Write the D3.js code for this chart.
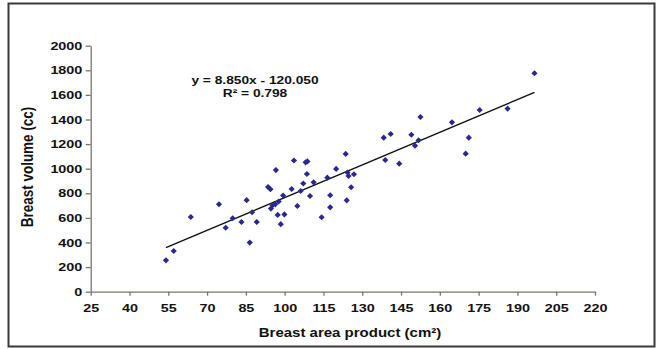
<!DOCTYPE html>
<html>
<head>
<meta charset="utf-8">
<script src="https://cdn.jsdelivr.net/npm/d3@7"></script>
<style>
  body { margin: 0; background: #fff; }
  text { font-family: "Liberation Sans", Arial, sans-serif; font-weight: bold; fill: #111; }
</style>
</head>
<body>
<div id="scatter"></div>
<script>
// data
var areaProduct = [54.1, 57.1, 63.7, 74.6, 77.2, 79.9, 83.3, 85.3, 86.5, 87.4, 89.2, 93.6, 94.5, 94.7, 95.3,
  96.4, 97.7, 96.6, 97.3, 98.5, 99.4, 99.9, 102.7, 103.6, 104.9, 106.2, 107.2, 108.1, 108.8, 108.6,
  109.8, 111.2, 114.3, 116.5, 117.6, 117.6, 119.9, 123.6, 124.0, 124.3, 124.7, 126.8, 125.7, 138.3,
  138.9, 141.0, 144.3, 149.0, 150.4, 151.8, 152.5, 164.7, 170.0, 171.2, 175.4, 186.2, 196.6];
var breastVolume = [255, 331, 607, 711, 520, 597, 567, 744, 399, 646, 567, 851, 833, 676, 701,
  711, 733, 989, 624, 549, 782, 628, 835, 1067, 697, 819, 880, 1052, 1059, 957,
  778, 889, 605, 927, 784, 686, 998, 1120, 743, 969, 941, 955, 849, 1252,
  1071, 1282, 1041, 1276, 1187, 1231, 1420, 1377, 1122, 1252, 1477, 1488, 1776];
var xTicks = [25, 40, 55, 70, 85, 100, 115, 130, 145, 160, 175, 190, 205, 220];
var yTicks = [0, 200, 400, 600, 800, 1000, 1200, 1400, 1600, 1800, 2000];
var trendSlope = 8.85;
var trendIntercept = -120.05;
var equationLabel = "y = 8.850x - 120.050";
var r2Label = "R\u00B2 = 0.798";

var svgWidth = 662;
var svgHeight = 349;
var sx = 1.25; // text in the source is stretched sideways

var margin = { top: 45.7, right: 67, bottom: 57.3, left: 90.7 };
var width = svgWidth - margin.left - margin.right;
var height = svgHeight - margin.top - margin.bottom;

var svg = d3.select("#scatter")
  .append("svg")
  .attr("width", svgWidth)
  .attr("height", svgHeight);

// outer frame
svg.append("rect")
  .attr("x", 8.5).attr("y", 3.5)
  .attr("width", 646).attr("height", 343)
  .attr("fill", "none")
  .attr("stroke", "#3a3a3a")
  .attr("stroke-width", 2);

var chartGroup = svg.append("g")
  .attr("transform", `translate(${margin.left}, ${margin.top})`);

// scales
var xLinearScale = d3.scaleLinear().domain([25, 220]).range([0, width]);
var yLinearScale = d3.scaleLinear().domain([0, 2000]).range([height, 0]);

// axes
var bottomAxis = d3.axisBottom(xLinearScale).tickValues(xTicks).tickSize(4).tickPadding(8).tickSizeOuter(0);
var leftAxis = d3.axisLeft(yLinearScale).tickValues(yTicks).tickFormat(d3.format("d"))
  .tickSize(5).tickPadding(3.4).tickSizeOuter(0);

var xAxisG = chartGroup.append("g")
  .attr("transform", `translate(0, ${height})`)
  .call(bottomAxis);
var yAxisG = chartGroup.append("g").call(leftAxis);

[xAxisG, yAxisG].forEach(function (g) {
  g.attr("font-family", null).attr("font-size", 11.5);
  g.selectAll("path, line").attr("stroke", "#7a746c").attr("stroke-width", 1.3);
  g.selectAll("text").attr("fill", "#111");
});
xAxisG.selectAll("text").attr("transform", `scale(${sx},1)`);
yAxisG.selectAll("text").attr("x", -8.4 / sx).attr("transform", `scale(${sx},1)`);

// trend line
var xr = d3.extent(areaProduct);
chartGroup.append("line")
  .attr("x1", xLinearScale(xr[0]))
  .attr("y1", yLinearScale(trendSlope * xr[0] + trendIntercept))
  .attr("x2", xLinearScale(xr[1]))
  .attr("y2", yLinearScale(trendSlope * xr[1] + trendIntercept))
  .attr("stroke", "#111")
  .attr("stroke-width", 1.4);

// points
var diamond = d3.symbol().type(d3.symbolSquare).size(19);
chartGroup.selectAll("path.pt")
  .data(areaProduct)
  .enter()
  .append("path")
  .attr("class", "pt")
  .attr("d", diamond)
  .attr("transform", (d, i) => `translate(${xLinearScale(d)}, ${yLinearScale(breastVolume[i])}) rotate(45)`)
  .attr("fill", "#2a2890");

// equation
svg.append("text")
  .attr("transform", `translate(255, 84) scale(${sx},1)`)
  .attr("text-anchor", "middle")
  .style("font-size", "11px")
  .text(equationLabel);
svg.append("text")
  .attr("transform", `translate(255, 97) scale(${sx},1)`)
  .attr("text-anchor", "middle")
  .style("font-size", "11px")
  .text(r2Label);

// axis labels
svg.append("text")
  .attr("transform", `translate(350, 337) scale(${sx},1)`)
  .attr("text-anchor", "middle")
  .style("font-size", "12px")
  .text("Breast area product (cm\u00B2)");

svg.append("text")
  .attr("transform", `translate(33, 167) scale(${sx},1) rotate(-90)`)
  .attr("text-anchor", "middle")
  .style("font-size", "13.5px")
  .text("Breast volume (cc)");
</script>
</body>
</html>
